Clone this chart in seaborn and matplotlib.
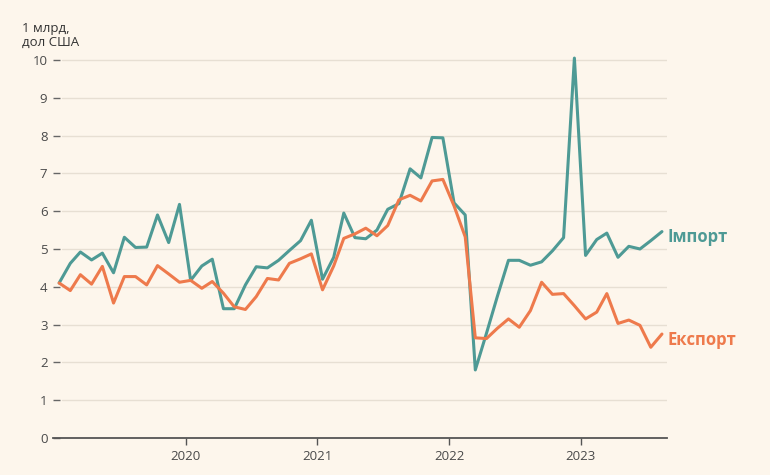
import numpy as np
import pandas as pd
import matplotlib
matplotlib.use("Agg")
import matplotlib.pyplot as plt
import seaborn as sns

# ---- data (billion USD, monthly, Jan 2019 - Aug 2023) ----
start_month = "2019-01-01"
n_months = 56
series_names = ["Імпорт", "Експорт"]
imports = [4.10, 4.62, 4.92, 4.71, 4.89, 4.37, 5.31, 5.04, 5.05, 5.90, 5.17, 6.18,
           4.17, 4.55, 4.73, 3.42, 3.42, 4.05, 4.53, 4.50, 4.70, 4.96, 5.22, 5.76,
           4.20, 4.78, 5.95, 5.30, 5.27, 5.50, 6.05, 6.20, 7.12, 6.88, 7.95, 7.94,
           6.22, 5.90, 1.80, 2.77, 3.74, 4.70, 4.70, 4.57, 4.66, 4.95, 5.30, 10.05,
           4.83, 5.25, 5.42, 4.78, 5.07, 5.00, 5.22, 5.46]
exports = [4.10, 3.90, 4.32, 4.07, 4.54, 3.57, 4.27, 4.27, 4.05, 4.56, 4.34, 4.12,
           4.17, 3.96, 4.14, 3.83, 3.47, 3.40, 3.74, 4.22, 4.18, 4.62, 4.74, 4.87,
           3.92, 4.55, 5.28, 5.40, 5.55, 5.35, 5.62, 6.30, 6.42, 6.27, 6.80, 6.84,
           6.14, 5.32, 2.65, 2.63, 2.90, 3.15, 2.93, 3.37, 4.12, 3.80, 3.82, 3.50,
           3.15, 3.33, 3.82, 3.03, 3.12, 2.98, 2.40, 2.75]
year_ticks = ["2020", "2021", "2022", "2023"]
y_ticks = [0, 1, 2, 3, 4, 5, 6, 7, 8, 9, 10]
y_title = "1 млрд,\nдол США"

dates = pd.date_range(start_month, periods=n_months, freq="MS") + pd.Timedelta(days=14)
df = pd.DataFrame({
    "date": np.concatenate([dates, dates]),
    "value": imports + exports,
    "series": [series_names[0]] * n_months + [series_names[1]] * n_months,
})

# ---- style ----
bg = "#FDF6EC"
teal = "#4E9A95"
orange = "#EE7A4C"
grid_c = "#E7DFD3"
text_c = "#4A4A4A"

sns.set_theme(style="white")
plt.rcParams["font.family"] = ["Open Sans", "DejaVu Sans"]

fig = plt.figure(figsize=(7.7, 4.75), dpi=100, facecolor=bg)
ax = fig.add_axes([53 / 770, 1 - 438 / 475, (667 - 53) / 770, (438 - 52.4) / 475])
ax.set_facecolor(bg)

sns.lineplot(data=df, x="date", y="value", hue="series",
             palette={series_names[0]: teal, series_names[1]: orange},
             linewidth=2.2, legend=False, ax=ax, zorder=3)

ax.set_ylim(0, 10.2)
ax.set_xlim(pd.Timestamp("2018-12-29"), pd.Timestamp("2023-08-29"))

# gridlines (inset from the left like the reference)
for v in y_ticks[1:]:
    ax.axhline(v, xmin=0.015, xmax=1.0, color=grid_c, lw=1.0, zorder=1)

for s in ["top", "right", "left"]:
    ax.spines[s].set_visible(False)
ax.spines["bottom"].set_color("#555555")
ax.spines["bottom"].set_linewidth(1.3)

ax.set_yticks(y_ticks)
ax.set_yticklabels([str(v) for v in y_ticks])
ax.tick_params(axis="y", direction="in", length=5, width=1.0, color="#666666",
               pad=4, labelsize=9.5, labelcolor=text_c, left=True)
tick_dates = [pd.Timestamp(f"{y}-01-01") for y in year_ticks]
ax.set_xticks(tick_dates)
ax.set_xticklabels(year_ticks)
ax.tick_params(axis="x", direction="out", length=5, width=1.0, color="#555555",
               pad=4, labelsize=9.5, labelcolor=text_c, bottom=True)
ax.set_xlabel("")
ax.set_ylabel("")

fig.text(22 / 770, 1 - 22 / 475, y_title, ha="left", va="top", fontsize=9.5,
         color="#333333", linespacing=1.05)

# end labels
ax.annotate(series_names[0], xy=(dates[-1], imports[-1]), xytext=(4, -4),
            textcoords="offset points", ha="left", va="center",
            fontsize=12, fontweight="bold", color=teal)
ax.annotate(series_names[1], xy=(dates[-1], exports[-1]), xytext=(4, -4),
            textcoords="offset points", ha="left", va="center",
            fontsize=12, fontweight="bold", color=orange)

fig.savefig("out.png", dpi=100, facecolor=bg)
